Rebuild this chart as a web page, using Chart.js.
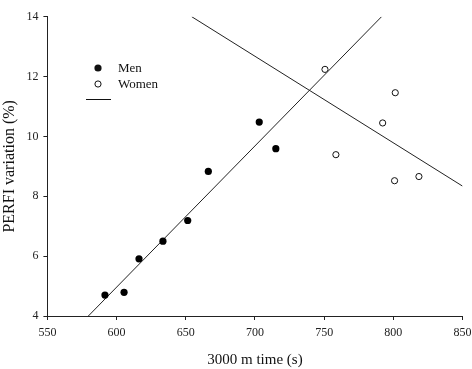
<!DOCTYPE html>
<html><head><meta charset="utf-8">
<script src="https://cdn.jsdelivr.net/npm/chart.js@4.4.1/dist/chart.umd.min.js"></script>
<style>html,body{margin:0;padding:0;background:#fff}#w{width:472px;height:369px}</style>
</head><body><div id="w"><canvas id="c"></canvas></div>
<script>
const menTime = [591.6, 605.4, 616.2, 633.5, 651.4, 666.3, 703.1, 715.1];
const menPerfi = [4.70, 4.79, 5.91, 6.50, 7.19, 8.83, 10.48, 9.59];
const womenTime = [750.6, 801.4, 792.3, 758.5, 800.9, 818.5];
const womenPerfi = [12.24, 11.46, 10.45, 9.39, 8.52, 8.66];
const menLineX = [579.6, 791.5];
const menLineY = [4, 14];
const womenLineX = [654.3, 850];
const womenLineY = [14, 8.34];
const xTicks = [550, 600, 650, 700, 750, 800, 850];
const yTicks = [4, 6, 8, 10, 12, 14];
const legendLabels = ['Men', 'Women'];

const FONT = "'Liberation Serif', 'DejaVu Serif', serif";
const pts = (xs, ys) => xs.map((x, i) => ({x, y: ys[i]}));

const legendPlugin = {
  id: 'legendDraw',
  afterDraw(chart) {
    const ctx = chart.ctx;
    ctx.save();
    ctx.font = "13px " + FONT;
    ctx.textBaseline = 'middle';
    ctx.fillStyle = '#111';
    ctx.beginPath(); ctx.arc(98, 68, 3.6, 0, Math.PI*2); ctx.fill();
    ctx.fillText(legendLabels[0], 118, 69);
    ctx.beginPath(); ctx.arc(98, 84, 3.1, 0, Math.PI*2);
    ctx.strokeStyle = '#111'; ctx.lineWidth = 1; ctx.fillStyle='#fff'; ctx.fill(); ctx.stroke();
    ctx.fillStyle = '#111';
    ctx.fillText(legendLabels[1], 118, 85);
    ctx.beginPath(); ctx.moveTo(86, 99.5); ctx.lineTo(111, 99.5); ctx.stroke();
    ctx.restore();
  }
};

new Chart(document.getElementById('c'), {
  type: 'scatter',
  data: {
    datasets: [
      {data: pts(menTime, menPerfi), pointRadius: 3.6, pointBackgroundColor: '#000', pointBorderColor: '#000', pointBorderWidth: 0, showLine: false},
      {data: pts(womenTime, womenPerfi), pointRadius: 3.1, pointBackgroundColor: '#fff', pointBorderColor: '#111', pointBorderWidth: 1, showLine: false},
      {data: pts(menLineX, menLineY), showLine: true, pointRadius: 0, borderColor: '#222', borderWidth: 1},
      {data: pts(womenLineX, womenLineY), showLine: true, pointRadius: 0, borderColor: '#222', borderWidth: 1}
    ]
  },
  options: {
    responsive: true, maintainAspectRatio: false, animation: false,
    layout: {padding: {top: 16.7, right: 9.5, left: 0, bottom: 0}},
    plugins: {legend: {display: false}, tooltip: {enabled: false}},
    scales: {
      x: {
        type: 'linear', min: 550, max: 850,
        afterBuildTicks: s => { s.ticks = xTicks.map(v => ({value: v})); },
        afterFit: s => { s.height = 53; s.paddingLeft = 0; s.paddingRight = 0; },
        grid: {drawOnChartArea: false, drawTicks: true, tickLength: 4, color: '#222'},
        border: {display: true, color: '#222', width: 1},
        ticks: {color: '#222', font: {family: FONT, size: 12}, padding: 6, maxRotation: 0},
        title: {display: true, text: '3000 m time (s)', color: '#111', font: {family: FONT, size: 15}, padding: {top: 10, bottom: 0}}
      },
      y: {
        type: 'linear', min: 4, max: 14,
        afterBuildTicks: s => { s.ticks = yTicks.map(v => ({value: v})); },
        afterFit: s => { s.width = 47.4; s.paddingTop = 0; s.paddingBottom = 0; },
        grid: {drawOnChartArea: false, drawTicks: true, tickLength: 4, color: '#222'},
        border: {display: true, color: '#222', width: 1},
        ticks: {color: '#222', font: {family: FONT, size: 12}, padding: 5},
        title: {display: true, text: 'PERFI variation (%)', color: '#111', font: {family: FONT, size: 16}, padding: {top: 0, bottom: 4}}
      }
    }
  },
  plugins: [legendPlugin]
});
</script>
</body></html>
